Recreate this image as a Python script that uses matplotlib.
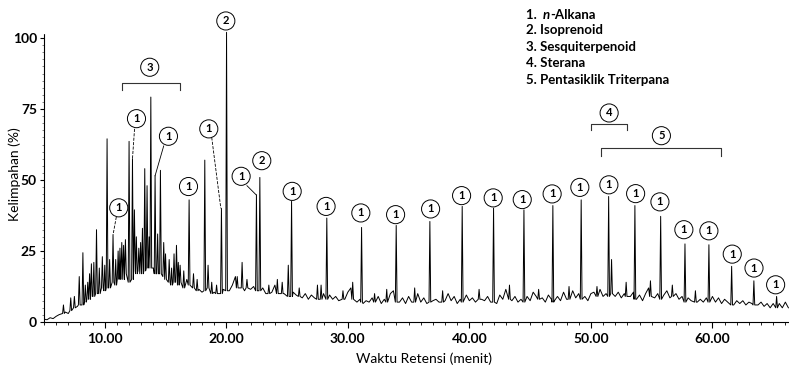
import matplotlib.pyplot as plt
import numpy as np

plt.rcParams['font.family'] = ['Lato', 'DejaVu Sans']
plt.rcParams['font.weight'] = 'bold'

base_t = np.arange(5.0, 66.26, 0.25)
base_v = [1.0, 0.8, 1.5, 1.2, 2.0, 2.6, 2.2, 3.5, 3.0, 4.5, 3.8, 5.5, 5.0,
          7.0, 5.5, 8.5, 7.0, 10.0, 8.0, 11.5, 9.5, 12.5, 10.5, 14.0, 12.0,
          16.0, 13.5, 18.0, 15.0, 17.5, 14.0, 19.0, 17.0, 21.0, 18.0, 20.5, 19.0,
          22.0, 17.0, 19.5, 15.0, 17.5, 13.0, 16.0, 12.5, 15.5, 14.0, 15.0, 12.0,
          13.5, 11.0, 11.5, 10.5, 12.0, 11.5, 13.0, 10.5, 12.0, 10.0, 11.5, 12.0,
          11.0, 13.0, 16.0, 12.0, 14.5, 11.0, 14.0, 11.5, 12.5, 10.5, 11.5, 12.0,
          10.0, 12.0, 10.5, 13.0, 9.5, 11.5, 10.0, 12.5, 9.0, 10.5, 9.5, 11.0,
          8.5, 10.0, 8.0, 9.5, 8.5, 11.0, 9.0, 10.0, 8.0, 9.5, 8.0, 9.0,
          7.5, 9.0, 8.0, 10.5, 12.0, 9.0, 7.0, 8.0, 6.5, 7.5, 7.0, 8.5,
          7.0, 9.0, 6.5, 8.0, 7.0, 10.0, 11.0, 7.5, 7.0, 8.5, 6.5, 9.0,
          7.0, 8.5, 10.0, 7.0, 8.5, 6.5, 9.5, 7.5, 8.0, 7.0, 9.0, 7.5,
          10.0, 7.5, 9.0, 6.5, 8.0, 7.0, 9.5, 7.5, 8.5, 7.0, 10.5, 8.0,
          7.5, 9.0, 7.0, 8.5, 6.5, 9.5, 8.0, 11.5, 8.5, 7.5, 9.0, 7.0,
          8.0, 6.5, 9.0, 7.5, 10.5, 9.0, 7.5, 8.5, 7.0, 9.5, 8.0, 7.5,
          9.0, 7.5, 10.5, 8.0, 9.5, 11.0, 8.5, 10.0, 8.0, 9.0, 7.5, 10.0,
          10.5, 9.0, 11.5, 9.0, 10.0, 8.5, 11.0, 9.0, 10.5, 8.5, 10.0, 11.5,
          9.0, 10.5, 8.0, 9.5, 7.5, 10.0, 12.0, 9.0, 8.5, 10.0, 8.0, 9.5,
          11.0, 8.5, 12.0, 10.0, 8.0, 9.0, 7.0, 8.5, 7.5, 10.0, 7.0, 8.0,
          7.0, 8.5, 7.5, 9.0, 7.0, 8.5, 6.5, 8.0, 7.0, 7.5, 6.0, 7.5,
          6.5, 7.5, 6.0, 7.0, 6.5, 7.5, 6.0, 7.0, 5.5, 6.5, 5.0, 6.5,
          5.5, 6.5, 5.0, 7.0, 5.0]

# main peaks: retention time, foot level, apex (%)
peak_t = [6.6, 7.2, 7.9, 8.2, 8.6, 8.9, 9.1, 9.32, 9.8, 10.19, 10.68, 11.1, 11.4, 11.7,
          12.0, 12.28, 12.44, 12.8, 13.29, 13.48, 13.79, 14.14, 14.35, 14.58, 15.0,
          15.7, 15.9, 16.2, 16.94, 17.3, 18.23, 18.5, 19.6, 20.02, 20.9, 21.3, 21.7,
          22.48, 22.76, 23.5, 24.2, 25.1, 25.37, 26.0, 27.5, 28.27, 30.4, 31.13, 32.2,
          33.2, 33.98, 35.5, 36.75, 37.8, 39.41, 40.8, 41.99, 43.3, 44.49, 45.7, 46.87,
          48.2, 49.2, 50.5, 51.46, 51.7, 52.9, 53.62, 54.9, 55.74, 56.7, 57.74, 58.6,
          59.71, 61.58, 63.41, 65.28]
peak_foot = [3, 4, 6, 6, 8, 9, 9, 10, 12, 12, 14, 15, 16, 17,
             14, 15, 18, 18, 18, 19, 19, 17, 17, 17, 15,
             14, 14, 14, 13, 12, 11, 12, 10, 11, 12, 12, 12,
             11, 11, 10, 10, 9, 9, 9, 8, 8, 8, 7, 7,
             7, 7, 7, 7, 7, 7, 8, 7, 8, 7, 8, 7,
             8, 8, 9, 9, 10, 9, 8, 9, 8, 9, 7, 7,
             7, 6, 6, 5]
peak_top = [6, 8.5, 16, 24.4, 14, 20.5, 21, 32.5, 23, 64.5, 30.7, 25, 28, 29,
            63.6, 57.5, 39.5, 26, 54, 48, 79.2, 51.5, 31, 53.4, 24,
            24, 27, 20, 43, 17, 57, 20, 40, 102, 16, 21, 15,
            44.8, 50.9, 13, 15, 20, 42.5, 12, 13, 36.6, 14, 33.3, 10,
            11.5, 34, 12, 35.4, 11, 40.7, 11.5, 40.1, 13, 39.5, 11.5, 41,
            12.5, 43, 12.5, 44.2, 22, 14, 41, 14.5, 37.2, 13, 27.5, 11,
            27.2, 19.6, 14.5, 9]

# smaller spikes in the unresolved hump
minor_t = [7.5, 8.4, 8.75, 9.55, 10.0, 10.4, 10.9, 11.25, 11.55, 12.6, 12.95, 13.1,
           13.65, 14.85, 15.3, 15.5, 16.05, 16.5, 17.6, 18.8, 19.2, 24.6, 27.8, 29.6]
minor_foot = [5, 7, 8, 10, 11, 12, 13, 15, 15, 17, 17, 17,
              19, 16, 14, 13, 13, 12, 11, 10, 10, 10, 8, 8]
minor_top = [9, 13, 17, 19, 20, 22, 22, 26, 27, 30, 28, 33,
             30, 28, 22, 19, 21, 18, 15, 14, 13, 14, 13, 11]

# circled labels
lab_t = [11.15, 12.61, 15.24, 16.89, 18.56, 19.96, 21.22, 22.92, 25.42, 28.21, 31.07,
         33.93, 36.81, 39.36, 41.96, 44.35, 46.81, 49.09, 51.48, 53.68, 55.68, 57.65,
         59.71, 61.63, 63.42, 65.2, 13.7, 51.5, 55.8]
lab_v = [40.2, 71.6, 65.4, 47.7, 68.0, 106.0, 51.3, 56.8, 46.0, 40.7, 38.4,
         37.8, 39.8, 44.5, 43.7, 43.1, 45.1, 47.4, 48.3, 45.2, 42.3, 32.5,
         32.1, 23.9, 19.0, 13.1, 89.7, 73.6, 65.6]
lab_txt = ['1', '1', '1', '1', '1', '2', '1', '2', '1', '1', '1',
           '1', '1', '1', '1', '1', '1', '1', '1', '1', '1', '1',
           '1', '1', '1', '1', '3', '4', '5']

# leader lines from circle to peak
lead_t0 = [10.95, 12.45, 14.85, 18.8, 21.7]
lead_v0 = [37.0, 68.0, 62.0, 65.0, 48.0]
lead_t1 = [10.68, 12.28, 14.14, 19.55, 22.45]
lead_v1 = [30.7, 57.5, 51.5, 40.0, 44.8]
lead_ls = ['--', '--', '-', '--', '-']

# group brackets: start, end, level, drop
br_t0 = [11.43, 50.03, 50.85]
br_t1 = [16.17, 53.0, 60.73]
br_v = [84.2, 69.8, 61.3]
br_drop = [2.5, 2.3, 2.8]

legend = ['2. Isoprenoid', '3. Sesquiterpenoid', '4. Sterana', '5. Pentasiklik Triterpana']

# build trace
hw = 0.07
all_t = peak_t + minor_t
all_f = peak_foot + minor_foot
all_h = peak_top + minor_top
bt = np.array(base_t)
bv = np.array(base_v)
pk = np.array(all_t)
keep = np.array([np.min(np.abs(pk - t)) > hw * 1.5 for t in bt])
xs = list(bt[keep])
ys = list(bv[keep])
for t, f, h in zip(all_t, all_f, all_h):
    xs += [t - hw, t, t + hw]
    ys += [f, h, f]
order = np.argsort(xs, kind='stable')
xs = np.array(xs)[order]
ys = np.array(ys)[order]

fig = plt.figure(figsize=(7.89, 3.68), dpi=100)
ax = fig.add_axes([44 / 789, 46 / 368, 745 / 789, 113 * 2.84 / 368])
ax.plot(xs, ys, color='black', lw=0.7)

ax.set_xlim(5, 66.3)
ax.set_ylim(0, 113)
ax.set_xticks([10, 20, 30, 40, 50, 60])
ax.set_xticklabels(['10.00', '20.00', '30.00', '40.00', '50.00', '60.00'], fontsize=10)
ax.set_xticks(np.arange(5, 67, 1), minor=True)
ax.set_yticks([0, 25, 50, 75, 100])
ax.set_yticklabels(['0', '25', '50', '75', '100'], fontsize=10)
ax.set_yticks(np.arange(0, 101, 2.5), minor=True)
ax.tick_params(axis='x', which='major', length=4, width=0.8, pad=4)
ax.tick_params(axis='x', which='minor', length=2, width=0.6)
ax.tick_params(axis='y', which='major', length=3, width=0.8, pad=2)
ax.tick_params(axis='y', which='minor', length=1.5, width=0.5, color='#555555')
for s in ['top', 'right']:
    ax.spines[s].set_visible(False)
ax.spines['left'].set_linestyle((0, (1, 1)))
ax.spines['left'].set_linewidth(0.8)
ax.spines['left'].set_bounds(0, 101.5)
ax.spines['bottom'].set_linewidth(0.8)
ax.set_xlabel('Waktu Retensi (menit)', fontsize=10, va='center')
ax.set_ylabel('Kelimpahan (%)', fontsize=10, va='center')
ax.xaxis.set_label_coords((424 - 44) / 745, (322.3 - 359) / (113 * 2.84))
ax.yaxis.set_label_coords((15 - 44) / 745, (322.3 - 174) / (113 * 2.84))

for t, v, s in zip(lab_t, lab_v, lab_txt):
    ax.text(t, v, s, ha='center', va='center', fontsize=8,
            bbox=dict(boxstyle='circle,pad=0.32', fc='white', ec='black', lw=0.7))

for t0, v0, t1, v1, ls in zip(lead_t0, lead_v0, lead_t1, lead_v1, lead_ls):
    ax.plot([t0, t1], [v0, v1], color='black', lw=0.6, ls=ls)

for t0, t1, v, d in zip(br_t0, br_t1, br_v, br_drop):
    ax.plot([t0, t0, t1, t1], [v - d, v, v, v - d], color='#333333', lw=0.8)

# legend block, "n" in italics
ly = [15, 30, 47, 63, 80]
r = fig.canvas.get_renderer()
x0 = 525.7
t1 = fig.text(x0 / 789, 1 - ly[0] / 368, '1.  ', fontsize=9.5, va='center')
w1 = t1.get_window_extent(r).width
t2 = fig.text((x0 + w1) / 789, 1 - ly[0] / 368, 'n', fontsize=9.5, va='center', style='italic')
w2 = t2.get_window_extent(r).width
fig.text((x0 + w1 + w2) / 789, 1 - ly[0] / 368, '-Alkana', fontsize=9.5, va='center')
for y, s in zip(ly[1:], legend):
    fig.text(x0 / 789, 1 - y / 368, s, fontsize=9.5, va='center')

fig.savefig('out.png', dpi=100, facecolor='white')
